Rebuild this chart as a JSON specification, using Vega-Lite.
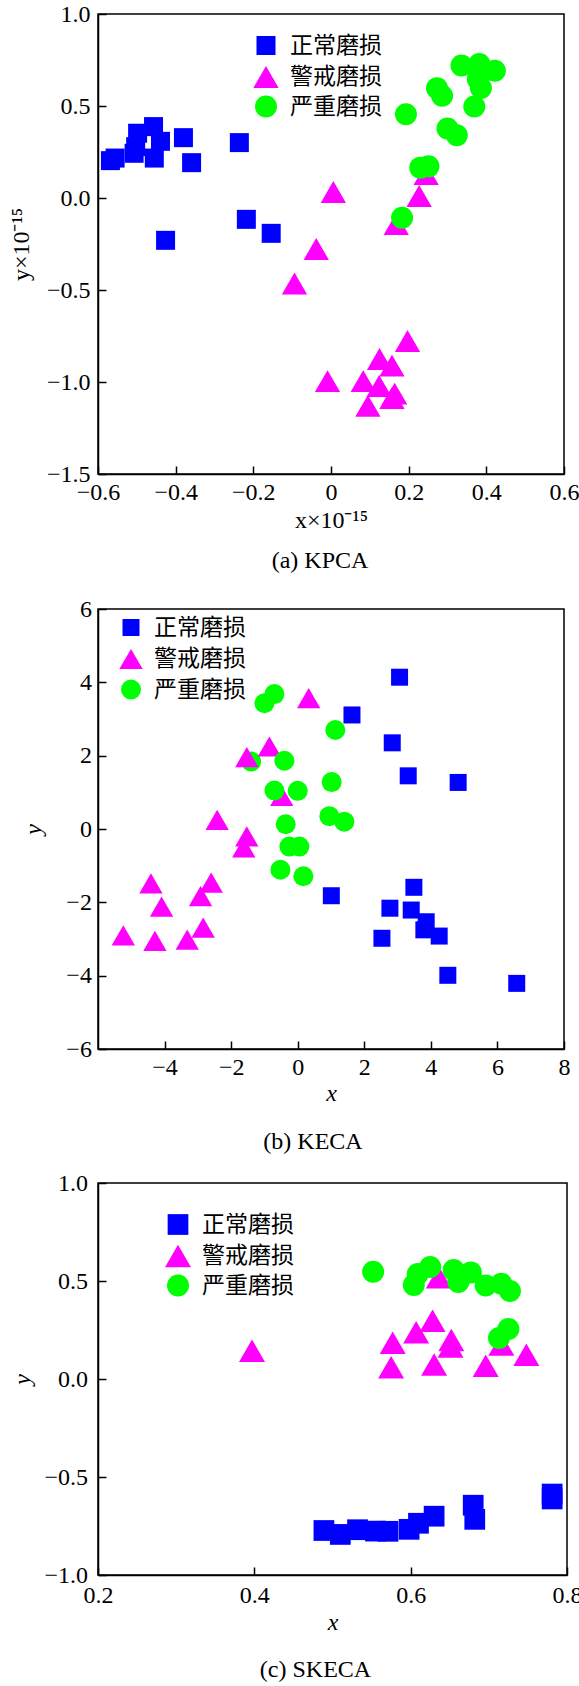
{
  "$schema": "https://vega.github.io/schema/vega-lite/v6.json",
  "background": "white",
  "padding": {"left": 8, "top": 1, "right": 0, "bottom": 0},
  "config": {
    "view": {"stroke": "black", "strokeWidth": 1.5},
    "axis": {
      "grid": false, "domainColor": "black", "domainWidth": 1.5,
      "tickColor": "black", "tickWidth": 1.5, "tickSize": -8,
      "labelFont": "Liberation Serif", "labelFontSize": 24, "labelColor": "black",
      "titleFont": "Liberation Serif", "titleFontSize": 24, "titleFontWeight": "normal", "titleColor": "black",
      "labelFlush": false, "labelOverlap": false
    },
    "legend": {
      "labelFont": "Noto Sans CJK SC", "labelFontSize": 23, "labelColor": "black",
      "symbolStrokeWidth": 0, "padding": 0
    },
    "title": {"font": "Liberation Serif", "fontSize": 24, "fontWeight": "normal", "color": "black", "anchor": "middle", "frame": "group"}
  },
  "datasets": {
    "a": [
      {"c": "正常磨损", "x": -0.457, "y": 0.388}, {"c": "正常磨损", "x": -0.498, "y": 0.352},
      {"c": "正常磨损", "x": -0.439, "y": 0.308}, {"c": "正常磨损", "x": -0.507, "y": 0.243},
      {"c": "正常磨损", "x": -0.455, "y": 0.217}, {"c": "正常磨损", "x": -0.568, "y": 0.203},
      {"c": "正常磨损", "x": -0.556, "y": 0.217}, {"c": "正常磨损", "x": -0.503, "y": 0.279},
      {"c": "正常磨损", "x": -0.380, "y": 0.328}, {"c": "正常磨损", "x": -0.359, "y": 0.192},
      {"c": "正常磨损", "x": -0.236, "y": 0.301}, {"c": "正常磨损", "x": -0.218, "y": -0.116},
      {"c": "正常磨损", "x": -0.154, "y": -0.192}, {"c": "正常磨损", "x": -0.426, "y": -0.230},
      {"c": "警戒磨损", "x": 0.006, "y": 0.033}, {"c": "警戒磨损", "x": -0.038, "y": -0.277},
      {"c": "警戒磨损", "x": -0.094, "y": -0.465}, {"c": "警戒磨损", "x": 0.227, "y": 0.011},
      {"c": "警戒磨损", "x": 0.168, "y": -0.141}, {"c": "警戒磨损", "x": 0.245, "y": 0.130},
      {"c": "警戒磨损", "x": 0.197, "y": -0.777}, {"c": "警戒磨损", "x": 0.125, "y": -0.875},
      {"c": "警戒磨损", "x": 0.157, "y": -0.911}, {"c": "警戒磨损", "x": -0.009, "y": -0.995},
      {"c": "警戒磨损", "x": 0.083, "y": -0.995}, {"c": "警戒磨损", "x": 0.124, "y": -1.022},
      {"c": "警戒磨损", "x": 0.164, "y": -1.063}, {"c": "警戒磨损", "x": 0.157, "y": -1.087},
      {"c": "警戒磨损", "x": 0.095, "y": -1.130},
      {"c": "严重磨损", "x": 0.193, "y": 0.455}, {"c": "严重磨损", "x": 0.273, "y": 0.596},
      {"c": "严重磨损", "x": 0.286, "y": 0.556}, {"c": "严重磨损", "x": 0.336, "y": 0.720},
      {"c": "严重磨损", "x": 0.382, "y": 0.728}, {"c": "严重磨损", "x": 0.422, "y": 0.692},
      {"c": "严重磨损", "x": 0.378, "y": 0.646}, {"c": "严重磨损", "x": 0.386, "y": 0.598},
      {"c": "严重磨损", "x": 0.369, "y": 0.497}, {"c": "严重磨损", "x": 0.300, "y": 0.378},
      {"c": "严重磨损", "x": 0.324, "y": 0.341}, {"c": "严重磨损", "x": 0.230, "y": 0.165},
      {"c": "严重磨损", "x": 0.251, "y": 0.172}, {"c": "严重磨损", "x": 0.183, "y": -0.107}
    ],
    "b": [
      {"c": "正常磨损", "x": 3.06, "y": 4.14}, {"c": "正常磨损", "x": 1.63, "y": 3.11},
      {"c": "正常磨损", "x": 2.84, "y": 2.35}, {"c": "正常磨损", "x": 3.32, "y": 1.45},
      {"c": "正常磨损", "x": 4.82, "y": 1.27}, {"c": "正常磨损", "x": 1.01, "y": -1.82},
      {"c": "正常磨损", "x": 3.49, "y": -1.59}, {"c": "正常磨损", "x": 2.77, "y": -2.16},
      {"c": "正常磨损", "x": 3.41, "y": -2.21}, {"c": "正常磨损", "x": 3.86, "y": -2.53},
      {"c": "正常磨损", "x": 3.79, "y": -2.75}, {"c": "正常磨损", "x": 4.25, "y": -2.92},
      {"c": "正常磨损", "x": 2.53, "y": -2.98}, {"c": "正常磨损", "x": 4.51, "y": -3.99},
      {"c": "正常磨损", "x": 6.58, "y": -4.21},
      {"c": "严重磨损", "x": -1.40, "y": 1.84},
      {"c": "警戒磨损", "x": 0.33, "y": 3.57}, {"c": "警戒磨损", "x": -0.85, "y": 2.25},
      {"c": "警戒磨损", "x": -1.53, "y": 1.96}, {"c": "警戒磨损", "x": -0.48, "y": 0.90},
      {"c": "警戒磨损", "x": -2.42, "y": 0.25}, {"c": "警戒磨损", "x": -1.53, "y": -0.20},
      {"c": "警戒磨损", "x": -1.62, "y": -0.50}, {"c": "警戒磨损", "x": -4.41, "y": -1.48},
      {"c": "警戒磨损", "x": -2.60, "y": -1.46}, {"c": "警戒磨损", "x": -2.92, "y": -1.83},
      {"c": "警戒磨损", "x": -4.09, "y": -2.12}, {"c": "警戒磨损", "x": -5.24, "y": -2.90},
      {"c": "警戒磨损", "x": -2.84, "y": -2.69}, {"c": "警戒磨损", "x": -4.29, "y": -3.05},
      {"c": "警戒磨损", "x": -3.32, "y": -3.02},
      {"c": "严重磨损", "x": -0.70, "y": 3.68}, {"c": "严重磨损", "x": -1.00, "y": 3.43},
      {"c": "严重磨损", "x": 1.13, "y": 2.70}, {"c": "严重磨损", "x": -0.40, "y": 1.86},
      {"c": "严重磨损", "x": -0.70, "y": 1.05}, {"c": "严重磨损", "x": 0.00, "y": 1.04},
      {"c": "严重磨损", "x": 1.02, "y": 1.28}, {"c": "严重磨损", "x": 0.95, "y": 0.35},
      {"c": "严重磨损", "x": 1.40, "y": 0.20}, {"c": "严重磨损", "x": -0.36, "y": 0.13},
      {"c": "严重磨损", "x": -0.25, "y": -0.48}, {"c": "严重磨损", "x": 0.05, "y": -0.48},
      {"c": "严重磨损", "x": -0.52, "y": -1.11}, {"c": "严重磨损", "x": 0.17, "y": -1.29}
    ],
    "c": [
      {"c": "正常磨损", "x": 0.489, "y": -0.773}, {"c": "正常磨损", "x": 0.510, "y": -0.793},
      {"c": "正常磨损", "x": 0.532, "y": -0.769}, {"c": "正常磨损", "x": 0.555, "y": -0.776},
      {"c": "正常磨损", "x": 0.571, "y": -0.777}, {"c": "正常磨损", "x": 0.598, "y": -0.767},
      {"c": "正常磨损", "x": 0.610, "y": -0.736}, {"c": "正常磨损", "x": 0.630, "y": -0.700},
      {"c": "正常磨损", "x": 0.680, "y": -0.644}, {"c": "正常磨损", "x": 0.682, "y": -0.716},
      {"c": "正常磨损", "x": 0.781, "y": -0.587}, {"c": "正常磨损", "x": 0.781, "y": -0.612},
      {"c": "警戒磨损", "x": 0.397, "y": 0.144}, {"c": "警戒磨损", "x": 0.628, "y": 0.297},
      {"c": "警戒磨损", "x": 0.607, "y": 0.238}, {"c": "警戒磨损", "x": 0.577, "y": 0.185},
      {"c": "警戒磨损", "x": 0.652, "y": 0.199}, {"c": "警戒磨损", "x": 0.651, "y": 0.166},
      {"c": "警戒磨损", "x": 0.575, "y": 0.060}, {"c": "警戒磨损", "x": 0.630, "y": 0.074},
      {"c": "警戒磨损", "x": 0.696, "y": 0.068}, {"c": "警戒磨损", "x": 0.716, "y": 0.176},
      {"c": "警戒磨损", "x": 0.748, "y": 0.124}, {"c": "警戒磨损", "x": 0.636, "y": 0.519},
      {"c": "严重磨损", "x": 0.552, "y": 0.547}, {"c": "严重磨损", "x": 0.604, "y": 0.480},
      {"c": "严重磨损", "x": 0.609, "y": 0.536}, {"c": "严重磨损", "x": 0.625, "y": 0.571},
      {"c": "严重磨损", "x": 0.655, "y": 0.556}, {"c": "严重磨损", "x": 0.661, "y": 0.495},
      {"c": "严重磨损", "x": 0.677, "y": 0.544}, {"c": "严重磨损", "x": 0.696, "y": 0.477},
      {"c": "严重磨损", "x": 0.716, "y": 0.486}, {"c": "严重磨损", "x": 0.727, "y": 0.449},
      {"c": "严重磨损", "x": 0.713, "y": 0.209}, {"c": "严重磨损", "x": 0.725, "y": 0.255}
    ]
  },
  "align": "none",
  "spacing": 22,
  "resolve": {"scale": {"color": "independent", "shape": "independent", "size": "independent"}},
  "vconcat": [
    {
      "width": 466, "height": 460,
      "data": {"name": "a"},
      "title": {"text": "(a) KPCA", "orient": "bottom", "offset": 17, "dx": -11},
      "mark": {"type": "point", "filled": true, "opacity": 1, "strokeWidth": 0},
      "encoding": {
        "x": {"field": "x", "type": "quantitative",
          "scale": {"domain": [-0.6, 0.6], "nice": false, "zero": false},
          "axis": {"title": "x×10⁻¹⁵", "values": [-0.6, -0.4, -0.2, 0, 0.2, 0.4, 0.6],
            "labelExpr": "datum.value == 0 ? '0' : format(datum.value, '.1f')",
            "labelPadding": 14, "titlePadding": 4}},
        "y": {"field": "y", "type": "quantitative",
          "scale": {"domain": [-1.5, 1.0], "nice": false, "zero": false},
          "axis": {"title": "y×10⁻¹⁵", "values": [-1.5, -1, -0.5, 0, 0.5, 1], "format": ".1f",
            "labelPadding": 16, "titlePadding": 13}},
        "color": {"field": "c", "type": "nominal",
          "scale": {"domain": ["正常磨损", "警戒磨损", "严重磨损"], "range": ["#0000ff", "#ff00ff", "#00ff00"]},
          "legend": {"title": null, "orient": "none", "legendX": 155, "legendY": 20, "rowPadding": 6, "labelOffset": 11}},
        "shape": {"field": "c", "type": "nominal",
          "scale": {"domain": ["正常磨损", "警戒磨损", "严重磨损"], "range": ["square", "triangle-up", "circle"]},
          "legend": {"title": null, "orient": "none", "legendX": 155, "legendY": 20, "rowPadding": 6, "labelOffset": 11}},
        "size": {"field": "c", "type": "nominal",
          "scale": {"type": "ordinal", "domain": ["正常磨损", "警戒磨损", "严重磨损"], "range": [361, 640, 484]},
          "legend": {"title": null, "orient": "none", "legendX": 155, "legendY": 20, "rowPadding": 6, "labelOffset": 11}}
      }
    },
    {
      "align": "none",
      "spacing": 15,
      "resolve": {"scale": {"color": "independent", "shape": "independent", "size": "independent"}},
      "vconcat": [
        {
          "width": 466, "height": 440,
          "data": {"name": "b"},
          "title": {"text": "(b) KECA", "orient": "bottom", "offset": 25, "dx": -18},
          "mark": {"type": "point", "filled": true, "opacity": 1, "strokeWidth": 0},
          "encoding": {
            "x": {"field": "x", "type": "quantitative",
              "scale": {"domain": [-6, 8], "nice": false, "zero": false},
              "axis": {"title": "x", "titleFontStyle": "italic", "values": [-4, -2, 0, 2, 4, 6, 8], "format": "d",
                "labelPadding": 14, "titlePadding": 2}},
            "y": {"field": "y", "type": "quantitative",
              "scale": {"domain": [-6, 6], "nice": false, "zero": false},
              "axis": {"title": "y", "titleFontStyle": "italic", "values": [-6, -4, -2, 0, 2, 4, 6], "format": "d",
                "labelPadding": 14.6, "titlePadding": 20.7}},
            "color": {"field": "c", "type": "nominal",
              "scale": {"domain": ["正常磨损", "警戒磨损", "严重磨损"], "range": ["#0000ff", "#ff00ff", "#00ff00"]},
              "legend": {"title": null, "orient": "none", "legendX": 21, "legendY": 7, "rowPadding": 7, "labelOffset": 11}},
            "shape": {"field": "c", "type": "nominal",
              "scale": {"domain": ["正常磨损", "警戒磨损", "严重磨损"], "range": ["square", "triangle-up", "circle"]},
              "legend": {"title": null, "orient": "none", "legendX": 21, "legendY": 7, "rowPadding": 7, "labelOffset": 11}},
            "size": {"field": "c", "type": "nominal",
              "scale": {"type": "ordinal", "domain": ["正常磨损", "警戒磨损", "严重磨损"], "range": [289, 545, 400]},
              "legend": {"title": null, "orient": "none", "legendX": 21, "legendY": 7, "rowPadding": 7, "labelOffset": 11}}
          }
        },
        {
          "width": 469, "height": 392,
          "data": {"name": "c"},
          "title": {"text": "(c) SKECA", "orient": "bottom", "offset": 24, "dx": -17},
          "mark": {"type": "point", "filled": true, "opacity": 1, "strokeWidth": 0},
          "encoding": {
            "x": {"field": "x", "type": "quantitative",
              "scale": {"domain": [0.2, 0.8], "nice": false, "zero": false},
              "axis": {"title": "x", "titleFontStyle": "italic", "values": [0.2, 0.4, 0.6, 0.8], "format": ".1f",
                "labelPadding": 16, "titlePadding": 3}},
            "y": {"field": "y", "type": "quantitative",
              "scale": {"domain": [-1, 1], "nice": false, "zero": false},
              "axis": {"title": "y", "titleFontStyle": "italic", "values": [-1, -0.5, 0, 0.5, 1], "format": ".1f",
                "labelPadding": 18.5, "titlePadding": 9.5}},
            "color": {"field": "c", "type": "nominal",
              "scale": {"domain": ["正常磨损", "警戒磨损", "严重磨损"], "range": ["#0000ff", "#ff00ff", "#00ff00"]},
              "legend": {"title": null, "orient": "none", "legendX": 67, "legendY": 30, "rowPadding": 6, "labelOffset": 11}},
            "shape": {"field": "c", "type": "nominal",
              "scale": {"domain": ["正常磨损", "警戒磨损", "严重磨损"], "range": ["square", "triangle-up", "circle"]},
              "legend": {"title": null, "orient": "none", "legendX": 67, "legendY": 30, "rowPadding": 6, "labelOffset": 11}},
            "size": {"field": "c", "type": "nominal",
              "scale": {"type": "ordinal", "domain": ["正常磨损", "警戒磨损", "严重磨损"], "range": [430, 676, 484]},
              "legend": {"title": null, "orient": "none", "legendX": 67, "legendY": 30, "rowPadding": 6, "labelOffset": 11}}
          }
        }
      ]
    }
  ]
}
